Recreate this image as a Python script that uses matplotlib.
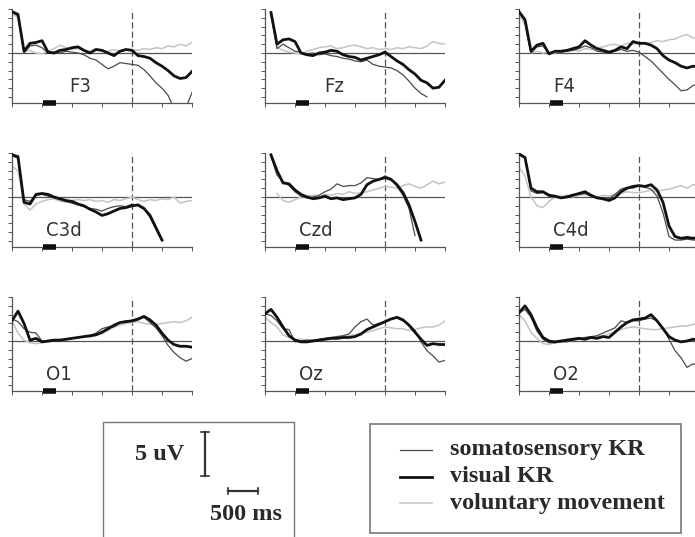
import numpy as np
import matplotlib
matplotlib.use('Agg')
import matplotlib.pyplot as plt
from matplotlib.patches import Rectangle

nan = np.nan

# time axis, ms relative to movement onset
t = np.arange(-2000, 1001, 100)

channels = ['F3', 'Fz', 'F4', 'C3d', 'Czd', 'C4d', 'O1', 'Oz', 'O2']

# amplitudes in uV, 100 ms steps
f3_somato = [4.7, 4.2, 0.0, 0.8, 0.9, 0.6, 0.0, 0.1, 0.0, 0.2, 0.1, 0.0, -0.2, -0.6, -0.8, -1.3,
             -1.8, -1.5, -1.1, -1.2, -1.3, -1.4, -1.9, -2.6, -3.4, -4.0, -4.8, -6.3, -6.6, -6.2, -4.5]
f3_visual = [4.7, 4.4, 0.2, 1.1, 1.2, 1.4, 0.1, 0.0, 0.3, 0.4, 0.6, 0.7, 0.3, 0.0, 0.4, 0.3,
             0.0, -0.3, 0.2, 0.4, 0.3, -0.3, -0.4, -0.6, -1.1, -1.5, -2.0, -2.6, -2.9, -2.8, -2.1]
f3_volunt = [4.5, 4.0, 0.2, 0.3, 0.0, -0.1, 0.2, 0.5, 0.9, 0.6, 0.4, 0.5, 0.3, 0.2, 0.5, 0.3,
             0.2, 0.4, 0.2, 0.3, 0.4, 0.3, 0.5, 0.4, 0.6, 0.5, 0.8, 0.7, 1.0, 0.8, 1.2]

fz_somato = [nan, 4.5, 0.5, 1.0, 0.6, 0.2, 0.1, -0.1, 0.0, -0.2, -0.1, -0.3, -0.4, -0.6, -0.7, -0.9,
             -1.0, -0.8, -1.3, -1.5, -1.6, -1.7, -2.0, -2.5, -3.2, -4.0, -4.6, -5.0, nan, nan, nan]
fz_visual = [nan, 4.6, 1.0, 1.5, 1.6, 1.3, 0.0, -0.2, -0.3, 0.0, 0.1, 0.3, 0.2, -0.2, -0.4, -0.5,
             -0.8, -0.6, -0.4, -0.2, 0.1, -0.4, -0.9, -1.3, -1.9, -2.4, -3.1, -3.4, -4.0, -3.9, -3.1]
fz_volunt = [nan, 4.3, 0.6, 0.3, 0.1, 0.0, -0.1, 0.2, 0.4, 0.6, 0.7, 0.8, 0.5, 0.6, 0.8, 0.9,
             0.7, 0.5, 0.6, 0.4, 0.5, 0.4, 0.6, 0.5, 0.7, 0.6, 0.5, 0.8, 1.3, 1.1, 1.0]

f4_somato = [4.7, 3.6, 0.0, 0.7, 0.8, 0.0, 0.2, 0.1, 0.2, 0.3, 0.5, 0.8, 0.6, 0.2, 0.1, 0.0,
             0.2, 0.4, 0.2, 0.3, 0.1, -0.4, -0.9, -1.6, -2.3, -3.0, -3.6, -4.3, -4.2, -3.7, -3.6]
f4_visual = [4.7, 3.8, 0.2, 0.9, 1.1, -0.1, 0.2, 0.2, 0.3, 0.5, 0.7, 1.4, 0.9, 0.5, 0.3, 0.1,
             0.3, 0.7, 0.5, 1.3, 1.1, 1.1, 0.9, 0.5, -0.3, -0.8, -1.1, -1.5, -1.7, -1.5, -1.6]
f4_volunt = [4.4, 3.2, 0.0, 0.2, 0.0, 0.1, 0.0, 0.2, 0.3, 0.4, 0.2, 0.5, 0.4, 0.6, 0.7, 0.9,
             1.0, 0.8, 1.1, 1.0, 1.2, 1.1, 1.2, 1.4, 1.3, 1.5, 1.6, 1.9, 2.1, 1.7, 1.8]

c3_somato = [4.7, 4.4, -0.3, -0.5, 0.2, 0.3, 0.1, -0.1, -0.3, -0.5, -0.7, -0.9, -1.1, -1.3, -1.4, -1.6,
             -1.3, -1.1, -1.0, -1.1, -0.8, -1.0, -1.4, -2.3, -3.7, -5.0, nan, nan, nan, nan, nan]
c3_visual = [4.8, 4.6, -0.6, -0.8, 0.3, 0.4, 0.3, 0.0, -0.2, -0.4, -0.5, -0.8, -1.0, -1.4, -1.7, -2.1,
             -1.9, -1.6, -1.3, -1.2, -1.0, -0.9, -1.3, -2.1, -3.5, -4.9, nan, nan, nan, nan, nan]
c3_volunt = [3.5, 3.0, -0.8, -1.5, -0.8, -0.5, -0.3, -0.2, -0.5, -0.6, -0.4, -0.3, -0.4, -0.3, -0.5, -0.4,
             -0.6, -0.3, -0.4, -0.2, 0.0, -0.3, -0.5, -0.3, -0.4, -0.2, -0.3, 0.0, -0.7, -0.5, -0.4]

cz_somato = [nan, 4.6, 2.5, 1.8, 1.3, 0.6, 0.1, -0.1, 0.0, 0.2, 0.6, 0.9, 1.5, 1.2, 1.3, 1.3,
             1.6, 2.2, 2.1, 2.0, 2.4, 2.1, 1.2, 0.2, -1.3, -4.4, nan, nan, nan, nan, nan]
cz_visual = [nan, 4.8, 3.0, 1.6, 1.5, 0.8, 0.3, 0.0, -0.2, -0.1, 0.1, -0.2, -0.1, -0.3, -0.2, -0.1,
             0.3, 1.4, 1.8, 2.0, 2.2, 2.0, 1.4, 0.5, -0.9, -2.8, -4.9, nan, nan, nan, nan]
cz_volunt = [nan, nan, 0.4, -0.4, -0.6, -0.3, 0.0, 0.1, 0.2, 0.0, 0.3, 0.2, 0.4, 0.3, 0.6, 0.4,
             0.5, 0.6, 0.8, 1.0, 1.2, 1.1, 1.0, 1.3, 1.5, 1.2, 1.0, 1.4, 1.8, 1.5, 1.7]

c4_somato = [4.8, 4.4, 0.7, 0.4, 0.5, 0.1, 0.0, -0.1, 0.1, 0.3, 0.3, 0.4, 0.1, 0.0, -0.3, -0.2,
             0.3, 0.9, 1.1, 1.0, 1.3, 1.1, 0.9, 0.1, -1.8, -4.5, -4.9, -4.9, -4.8, -4.9, -4.9]
c4_visual = [4.9, 4.5, 1.0, 0.6, 0.6, 0.2, 0.1, -0.1, 0.0, 0.2, 0.4, 0.6, 0.2, -0.1, -0.2, -0.4,
             -0.1, 0.6, 1.0, 1.2, 1.3, 1.2, 1.4, 0.8, -0.6, -3.3, -4.5, -4.7, -4.6, -4.7, -4.6]
c4_volunt = [3.4, 2.4, 0.0, -1.0, -1.2, -0.5, 0.0, 0.1, 0.2, 0.0, 0.2, 0.3, 0.1, 0.0, 0.2, 0.1,
             0.3, 0.4, 0.6, 0.5, 0.5, 0.6, 0.8, 0.6, 0.8, 0.9, 1.1, 1.3, 1.0, 1.4, 1.2]

o1_somato = [2.5, 2.2, 1.4, 1.0, 0.9, 0.0, -0.1, 0.0, 0.1, 0.2, 0.3, 0.4, 0.5, 0.6, 0.9, 1.4,
             1.6, 1.6, 2.1, 2.3, 2.2, 2.4, 2.7, 2.1, 1.5, 0.6, -0.5, -1.3, -1.9, -2.3, -2.0]
o1_visual = [2.3, 3.4, 2.0, 0.1, 0.3, -0.1, 0.0, 0.1, 0.1, 0.2, 0.3, 0.4, 0.5, 0.6, 0.7, 1.0,
             1.4, 1.8, 2.1, 2.2, 2.3, 2.5, 2.8, 2.4, 1.8, 0.9, 0.1, -0.4, -0.6, -0.6, -0.7]
o1_volunt = [2.3, 0.9, 0.1, -0.2, -0.3, -0.2, 0.0, 0.1, 0.2, 0.1, 0.3, 0.4, 0.5, 0.4, 0.7, 0.8,
             1.2, 1.6, 1.8, 2.0, 2.1, 2.2, 2.0, 1.9, 1.9, 2.0, 2.1, 2.2, 2.1, 2.3, 2.7]

oz_somato = [3.1, 2.9, 2.3, 1.4, 1.3, -0.1, 0.0, 0.1, 0.1, 0.2, 0.3, 0.4, 0.5, 0.6, 0.8, 1.6,
             2.2, 2.5, 1.8, 2.0, 2.2, 2.5, 2.6, 2.3, 1.9, 1.2, -0.1, -1.1, -1.7, -2.4, -2.2]
oz_visual = [3.1, 3.6, 2.7, 1.6, 0.6, 0.1, -0.1, -0.1, 0.0, 0.1, 0.2, 0.3, 0.3, 0.4, 0.4, 0.5,
             0.8, 1.3, 1.6, 1.9, 2.2, 2.5, 2.7, 2.4, 1.8, 1.0, 0.2, -0.5, -0.3, -0.4, -0.4]
oz_volunt = [2.7, 2.1, 1.6, 0.7, 0.4, 0.2, 0.2, 0.1, 0.0, 0.1, 0.3, 0.4, 0.5, 0.5, 0.6, 0.7,
             0.9, 1.0, 1.2, 1.4, 1.6, 1.5, 1.4, 1.4, 1.2, 1.3, 1.5, 1.6, 1.6, 1.8, 2.3]

o2_somato = [3.2, 3.6, 2.7, 1.1, 0.2, -0.2, -0.2, -0.1, -0.1, 0.1, 0.2, 0.4, 0.5, 0.6, 0.9, 1.2,
             1.5, 2.3, 2.1, 2.3, 2.3, 2.5, 2.6, 2.3, 1.5, 0.2, -1.1, -1.9, -3.0, -2.6, -2.8]
o2_visual = [3.2, 4.0, 3.0, 1.5, 0.4, 0.0, -0.1, 0.0, 0.1, 0.2, 0.3, 0.2, 0.4, 0.3, 0.5, 0.4,
             1.0, 1.6, 2.1, 2.4, 2.5, 2.6, 3.0, 2.3, 1.4, 0.5, 0.1, -0.1, 0.0, 0.2, 0.1]
o2_volunt = [3.0, 2.3, 1.0, 0.3, -0.3, -0.4, -0.2, 0.0, 0.2, 0.3, 0.3, 0.4, 0.4, 0.5, 0.6, 0.8,
             1.1, 1.3, 1.5, 1.6, 1.5, 1.4, 1.3, 1.3, 1.4, 1.5, 1.6, 1.7, 1.7, 1.9, 1.9]

somato = [f3_somato, fz_somato, f4_somato, c3_somato, cz_somato, c4_somato, o1_somato, oz_somato, o2_somato]
visual = [f3_visual, fz_visual, f4_visual, c3_visual, cz_visual, c4_visual, o1_visual, oz_visual, o2_visual]
volunt = [f3_volunt, fz_volunt, f4_volunt, c3_volunt, cz_volunt, c4_volunt, o1_volunt, oz_volunt, o2_volunt]

label_x = [-1050, -1020, -1430, -1430, -1430, -1430, -1430, -1430, -1430]
cue = [-1480, -1270]   # black bar on the time axis

series_names = ['somatosensory KR', 'visual KR', 'voluntary movement']
styles = [dict(color='#4a4a4a', lw=0.9),
          dict(color='#111111', lw=2.0),
          dict(color='#c4c4c4', lw=1.1)]

W, H = 695, 537
fig = plt.figure(figsize=(W / 100, H / 100), dpi=100)

ylo, yhi = -5.7, 5.0
col_left = [12, 265, 519]
row_zero = [53, 197, 341]
aw, ah = 180, 94
px_per_uv = ah / (yhi - ylo)
top_off = yhi * px_per_uv

gray = '#555555'
for k, ch in enumerate(channels):
    r, c = divmod(k, 3)
    top = row_zero[r] - top_off
    ax = fig.add_axes([col_left[c] / W, 1 - (top + ah) / H, aw / W, ah / H])
    ax.set_xlim(-2000, 1000)
    ax.set_ylim(ylo, yhi)
    ax.plot(t, volunt[k], **styles[2], zorder=2)
    ax.plot(t, somato[k], **styles[0], zorder=3)
    ax.plot(t, visual[k], **styles[1], zorder=4)
    ax.axhline(0, color=gray, lw=0.9, zorder=1)
    ax.axvline(0, color=gray, lw=0.9, ls=(0, (5, 2.5)), zorder=1)
    ax.plot(cue, [ylo, ylo], color='#111111', lw=4, solid_capstyle='butt', clip_on=False, zorder=5)
    ax.text(label_x[k], -3.8, ch, ha='left', va='center', fontsize=14.5, color='#333333',
            family=['Liberation Sans Narrow', 'DejaVu Sans'], stretch='condensed')
    for sp in ['top', 'right']:
        ax.spines[sp].set_visible(False)
    for sp in ['left', 'bottom']:
        ax.spines[sp].set_color(gray)
        ax.spines[sp].set_linewidth(0.9)
    ax.set_xticks(np.arange(-2000, 1001, 500))
    ax.set_yticks(np.arange(-5, 5.1, 1))
    ax.tick_params(length=3, width=0.7, color=gray, direction='out',
                   labelbottom=False, labelleft=False)
    ax.set_facecolor('none')

# overlay in pixel units for the scale box and the legend
ov = fig.add_axes([0, 0, 1, 1])
ov.set_xlim(0, W)
ov.set_ylim(H, 0)
ov.axis('off')
ov.set_zorder(-1)

serif = dict(family='Liberation Serif', weight='bold', color='#2a2a2a', fontsize=17.5)

ov.add_patch(Rectangle((103, 422), 191, 130, fill=False, ec='#777777', lw=1.0))
ov.text(135, 454, '5 uV', ha='left', va='center', **serif)
bar_top, bar_len = 432, 5 * px_per_uv
ov.plot([205, 205], [bar_top, bar_top + bar_len], color='#333333', lw=1.6)
ov.plot([201, 209], [bar_top, bar_top], color='#333333', lw=1.2)
ov.plot([201, 209], [bar_top + bar_len, bar_top + bar_len], color='#333333', lw=1.2)
ms_len = 500 * aw / 3000
ov.plot([228, 228 + ms_len], [491, 491], color='#333333', lw=1.6)
ov.plot([228, 228], [488, 494], color='#333333', lw=1.2)
ov.plot([228 + ms_len, 228 + ms_len], [488, 494], color='#333333', lw=1.2)
ov.text(210, 514, '500 ms', ha='left', va='center', **serif)

ov.add_patch(Rectangle((370, 424), 311, 109, fill=False, ec='#777777', lw=1.2))
for i, (name, st) in enumerate(zip(series_names, styles)):
    y = 450 + i * 26.5
    ov.plot([400, 432], [y, y], **st)
    ov.text(450, y, name, ha='left', va='center', **serif)

fig.savefig('out.png', dpi=100, facecolor='white')
